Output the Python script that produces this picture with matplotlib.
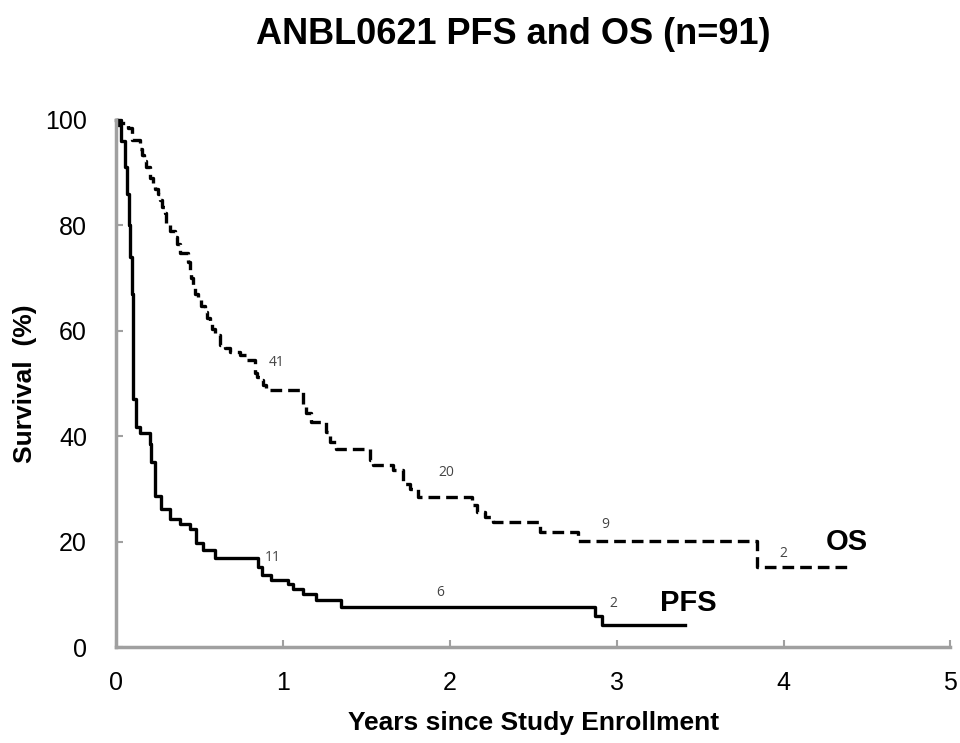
import matplotlib
matplotlib.use("Agg")
import matplotlib.pyplot as plt

plt.rcParams['font.family'] = ['Liberation Sans', 'DejaVu Sans']

# Kaplan-Meier step data (years, survival %)
pfs_t = [0, 0.01, 0.03, 0.05, 0.065, 0.075, 0.085, 0.092, 0.098, 0.102, 0.12, 0.14,
         0.20, 0.21, 0.23, 0.27, 0.32, 0.38, 0.44, 0.48, 0.52, 0.59, 0.85, 0.875,
         0.93, 1.03, 1.06, 1.12, 1.20, 1.35, 2.87, 2.91, 3.41]
pfs_s = [100, 99.0, 96.0, 91.0, 86.0, 80.0, 74.0, 67.0, 58.0, 47.0, 41.8, 40.7,
         38.5, 35.2, 28.6, 26.2, 24.4, 23.3, 22.5, 19.8, 18.5, 16.9, 15.2, 13.7,
         12.7, 12.0, 11.1, 10.1, 8.9, 7.7, 6.0, 4.2, 4.2]

os_t = [0, 0.03, 0.07, 0.095, 0.145, 0.155, 0.165, 0.18, 0.20, 0.22, 0.235, 0.25,
        0.26, 0.275, 0.29, 0.30, 0.32, 0.35, 0.365, 0.38, 0.43, 0.44, 0.45, 0.46,
        0.475, 0.49, 0.51, 0.53, 0.545, 0.56, 0.575, 0.59, 0.62, 0.65, 0.68, 0.74,
        0.78, 0.83, 0.845, 0.86, 0.88, 0.90, 1.12, 1.14, 1.17, 1.26, 1.28, 1.32,
        1.52, 1.54, 1.66, 1.72, 1.76, 1.81, 2.13, 2.16, 2.21, 2.26, 2.54, 2.77,
        3.84, 4.41]
os_s = [100, 99.4, 98.5, 96.2, 94.5, 93.4, 92.3, 91.0, 89.0, 87.9, 87.0, 85.9,
        84.8, 83.5, 82.3, 80.0, 79.0, 77.8, 76.4, 74.7, 73.0, 71.5, 70.0, 68.3,
        67.0, 65.8, 64.8, 63.6, 62.5, 61.5, 60.3, 59.2, 57.3, 56.8, 56.0, 55.4,
        54.5, 52.0, 51.3, 50.7, 49.8, 48.8, 46.0, 44.5, 42.7, 40.8, 39.0, 37.6,
        35.5, 34.5, 33.6, 31.0, 30.0, 28.5, 27.0, 25.6, 24.6, 23.7, 21.8, 20.1,
        15.2, 15.2]

# numbers at risk written along the curves
risk_x = [0.96, 1.98, 2.93, 4.00, 0.94, 1.94, 2.98]
risk_y = [54.0, 33.2, 23.2, 17.8, 17.0, 10.4, 8.3]
risk_n = ["41", "20", "9", "2", "11", "6", "2"]

fig = plt.figure(figsize=(9.6, 7.43), dpi=100)
ax = fig.add_axes([0.121, 0.129, 0.869, 0.7095])

ax.step(os_t, os_s, where='post', color='black', lw=2.4,
        linestyle=(0, (3.5, 1.8)), clip_on=False)
ax.step(pfs_t, pfs_s, where='post', color='black', lw=2.4, clip_on=False)

for x, y, n in zip(risk_x, risk_y, risk_n):
    ax.text(x, y, n, fontsize=10, color='#444444', ha='center', va='center',
            family=['Open Sans', 'DejaVu Sans'])

ax.text(4.38, 19.9, "OS", fontsize=21, fontweight='bold', ha='center', va='center')
ax.text(3.43, 8.3, "PFS", fontsize=21, fontweight='bold', ha='center', va='center')

ax.set_xlim(0, 5)
ax.set_ylim(0, 100)
ax.set_xticks([0, 1, 2, 3, 4, 5])
ax.set_yticks([0, 20, 40, 60, 80, 100])
ax.tick_params(direction='in', length=5, width=1.5, color='#a0a0a0', labelsize=18)
ax.tick_params(axis='x', pad=17)
ax.tick_params(axis='y', pad=21)

for side in ['top', 'right']:
    ax.spines[side].set_visible(False)
for side in ['left', 'bottom']:
    ax.spines[side].set_color('#a0a0a0')
    ax.spines[side].set_linewidth(2.5)

ax.set_xlabel("Years since Study Enrollment", fontsize=19, fontweight='bold', labelpad=12)
ax.set_ylabel("Survival  (%)", fontsize=19, fontweight='bold', labelpad=6)
fig.suptitle("ANBL0621 PFS and OS (n=91)", fontsize=26, fontweight='bold',
             x=0.535, y=0.977)

fig.savefig("out.png", dpi=100)
